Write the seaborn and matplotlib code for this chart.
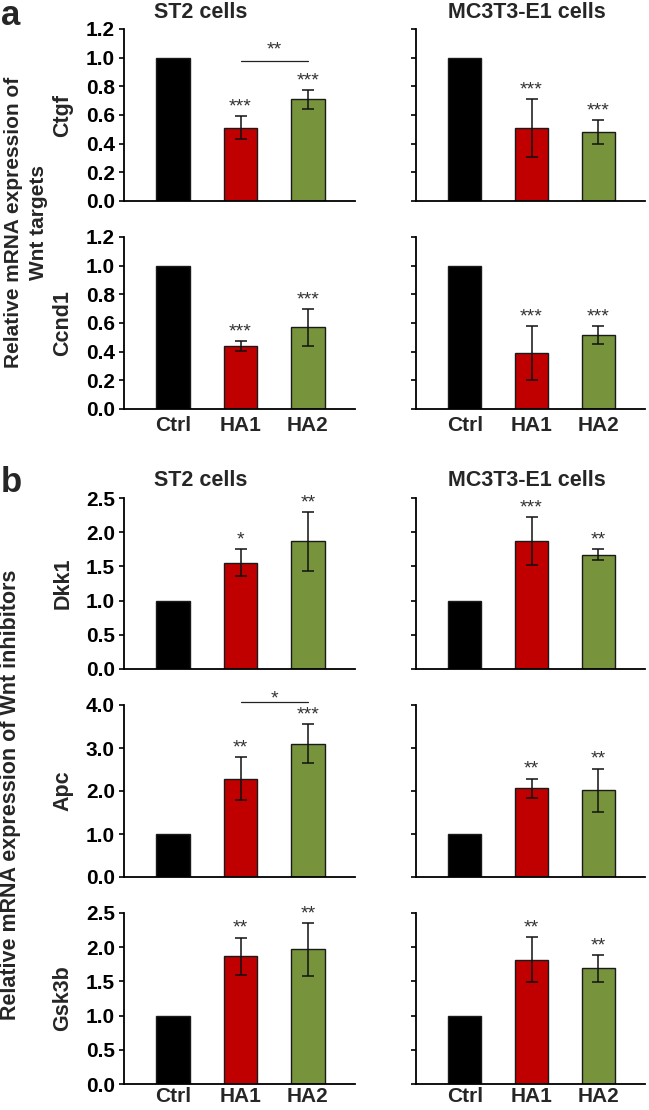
import numpy as np
import pandas as pd
import matplotlib
matplotlib.use("Agg")
import matplotlib.pyplot as plt
import seaborn as sns

# ---------------- data ----------------
categories = ["Ctrl", "HA1", "HA2"]

st2_ctgf = [1.0, 0.51, 0.71]
st2_ctgf_err = [0.0, 0.08, 0.065]
mc_ctgf = [1.0, 0.51, 0.48]
mc_ctgf_err = [0.0, 0.20, 0.085]

st2_ccnd1 = [1.0, 0.44, 0.57]
st2_ccnd1_err = [0.0, 0.033, 0.13]
mc_ccnd1 = [1.0, 0.39, 0.515]
mc_ccnd1_err = [0.0, 0.19, 0.062]

st2_dkk1 = [1.0, 1.555, 1.87]
st2_dkk1_err = [0.0, 0.20, 0.43]
mc_dkk1 = [1.0, 1.87, 1.67]
mc_dkk1_err = [0.0, 0.35, 0.083]

st2_apc = [1.0, 2.28, 3.10]
st2_apc_err = [0.0, 0.50, 0.46]
mc_apc = [1.0, 2.06, 2.02]
mc_apc_err = [0.0, 0.23, 0.50]

st2_gsk3b = [1.0, 1.87, 1.97]
st2_gsk3b_err = [0.0, 0.27, 0.385]
mc_gsk3b = [1.0, 1.82, 1.69]
mc_gsk3b_err = [0.0, 0.33, 0.20]

st2_ctgf_stars = ["", "***", "***"]
mc_ctgf_stars = ["", "***", "***"]
st2_ccnd1_stars = ["", "***", "***"]
mc_ccnd1_stars = ["", "***", "***"]
st2_dkk1_stars = ["", "*", "**"]
mc_dkk1_stars = ["", "***", "**"]
st2_apc_stars = ["", "**", "***"]
mc_apc_stars = ["", "**", "**"]
st2_gsk3b_stars = ["", "**", "**"]
mc_gsk3b_stars = ["", "**", "**"]

ctgf_bracket = (0.98, "**")
apc_bracket = (4.08, "*")

genes = ["Ctgf", "Ccnd1", "Dkk1", "Apc", "Gsk3b"]
col_titles = ["ST2 cells", "MC3T3-E1 cells"]

# ---------------- style ----------------
sns.set_style("ticks")
plt.rcParams['font.family'] = ['Liberation Sans', 'DejaVu Sans']
plt.rcParams['font.weight'] = 'bold'

palette = {"Ctrl": "#000000", "HA1": "#C00000", "HA2": "#77933C"}

W, H = 649, 1110
fig = plt.figure(figsize=(W / 100, H / 100), dpi=100)


def px_axes(x0, x1, y0, y1):
    return fig.add_axes([x0 / W, 1 - y1 / H, (x1 - x0) / W, (y1 - y0) / H])


def draw(ax, values, errs, stars, ymax, ystep, show_labels, show_x, xpad,
         bracket=None, bracket_off=3):
    df = pd.DataFrame({"group": categories, "value": values})
    sns.barplot(data=df, x="group", y="value", hue="group", palette=palette,
                order=categories, hue_order=categories, width=0.5,
                edgecolor="#1a1a1a", linewidth=1.0, legend=False, ax=ax,
                errorbar=None, saturation=1)
    xs = np.arange(len(categories))
    vals = np.array(values)
    e = np.array(errs)
    m = e > 0
    ax.errorbar(xs[m], vals[m], yerr=e[m], fmt='none', ecolor='#111111',
                elinewidth=1.1, capsize=4, capthick=1.1, zorder=5)
    for x, v, er, s in zip(xs, vals, e, stars):
        if s:
            ax.annotate(s, (x, v + er), xytext=(0, 0.5), textcoords='offset points',
                        ha='center', va='bottom', fontsize=14, color='#333333',
                        fontweight='normal', annotation_clip=False)
    if bracket is not None:
        yb, sb = bracket
        ax.plot([1, 2], [yb, yb], color='#222222', lw=0.9, clip_on=False)
        ax.annotate(sb, (1.5, yb), xytext=(0, bracket_off), textcoords='offset points',
                    ha='center', va='bottom', fontsize=14, color='#333333',
                    fontweight='normal', annotation_clip=False)
    ax.set_xlim(-0.73, 2.7)
    ax.set_ylim(0, ymax)
    ticks = np.arange(0, ymax + 1e-9, ystep)
    ax.set_yticks(ticks)
    ax.set_yticklabels([f"{t:.1f}" for t in ticks])
    ax.tick_params(axis='y', length=3.5, width=1.2, direction='out', pad=3,
                   labelsize=15, labelleft=show_labels, colors='black')
    ax.tick_params(axis='x', length=0, pad=xpad, labelsize=15, labelbottom=show_x)
    ax.set_xlabel("")
    ax.set_ylabel("")
    sns.despine(ax=ax)
    for sp in ("left", "bottom"):
        ax.spines[sp].set_linewidth(1.3)
        ax.spines[sp].set_color("black")


rows_px = [(29, 201), (237, 409), (498, 669), (705, 877), (913, 1084)]
left_x = (124, 355)
right_x = (416, 645)
xpads = [2, 5, 2, 2, 2]

panel_data = [
    (st2_ctgf, st2_ctgf_err, st2_ctgf_stars, mc_ctgf, mc_ctgf_err, mc_ctgf_stars, 1.2, 0.2, ctgf_bracket, 1.5),
    (st2_ccnd1, st2_ccnd1_err, st2_ccnd1_stars, mc_ccnd1, mc_ccnd1_err, mc_ccnd1_stars, 1.2, 0.2, None, 1.5),
    (st2_dkk1, st2_dkk1_err, st2_dkk1_stars, mc_dkk1, mc_dkk1_err, mc_dkk1_stars, 2.5, 0.5, None, 1.5),
    (st2_apc, st2_apc_err, st2_apc_stars, mc_apc, mc_apc_err, mc_apc_stars, 4.0, 1.0, apc_bracket, -4),
    (st2_gsk3b, st2_gsk3b_err, st2_gsk3b_stars, mc_gsk3b, mc_gsk3b_err, mc_gsk3b_stars, 2.5, 0.5, None, 1.5),
]

for i, (row, gene, pdat) in enumerate(zip(rows_px, genes, panel_data)):
    sv, se, ss, mv, me, ms, ymax, ystep, br, boff = pdat
    show_x = i in (1, 4)
    axl = px_axes(left_x[0], left_x[1], row[0], row[1])
    draw(axl, sv, se, ss, ymax, ystep, True, show_x, xpads[i], br, boff)
    axr = px_axes(right_x[0], right_x[1], row[0], row[1])
    draw(axr, mv, me, ms, ymax, ystep, False, show_x, xpads[i])
    fig.text(63 / W, 1 - (row[0] + row[1]) / 2 / H, gene, rotation=90,
             ha='center', va='center', fontsize=15.5, fontweight='bold')

# column titles
for ytitle in (13, 480):
    fig.text(201 / W, 1 - ytitle / H, col_titles[0], ha='center', va='center',
             fontsize=15.5, fontweight='bold')
    fig.text(527 / W, 1 - ytitle / H, col_titles[1], ha='center', va='center',
             fontsize=15.5, fontweight='bold')

# panel letters
fig.text(1 / W, 1 - 25 / H, "a", ha='left', va='baseline', fontsize=25, fontweight='bold')
fig.text(1 / W, 1 - 492 / H, "b", ha='left', va='baseline', fontsize=25, fontweight='bold')

# outer y labels
fig.text(26 / W, 1 - 222 / H, "Relative mRNA expression of\nWnt targets", rotation=90,
         ha='center', va='center', multialignment='center', fontsize=15,
         fontweight='bold', linespacing=1.35)
fig.text(11 / W, 1 - 795 / H, "Relative mRNA expression of Wnt inhibitors", rotation=90,
         ha='center', va='center', fontsize=15.5, fontweight='bold')

fig.savefig("out.png", dpi=100)
